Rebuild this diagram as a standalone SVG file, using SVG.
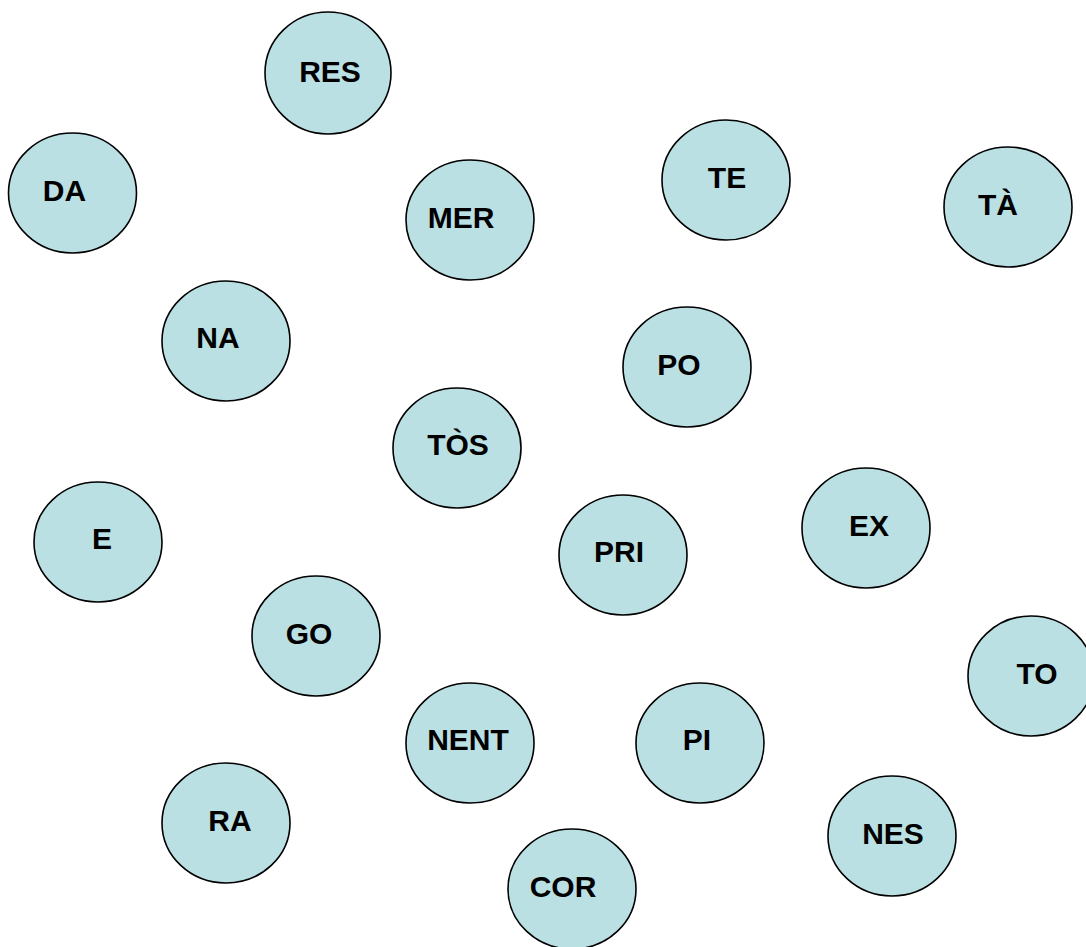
<svg xmlns="http://www.w3.org/2000/svg" width="1086" height="947" viewBox="0 0 1086 947">
<style>
.n ellipse{fill:#BBE0E3;stroke:#000;stroke-width:1.6}
.n text{font-family:"Liberation Sans",Arial,sans-serif;font-weight:bold;font-size:30px;text-anchor:middle;fill:#000}
</style>
<rect width="1086" height="947" fill="#fff"/>
<g id="connectors"></g>
<g id="n-res" class="n"><ellipse cx="328" cy="73" rx="63" ry="61"/><text x="330" y="82">RES</text></g>
<g id="n-da" class="n"><ellipse cx="72.5" cy="193" rx="64" ry="60"/><text x="64.5" y="201">DA</text></g>
<g id="n-mer" class="n"><ellipse cx="470" cy="220" rx="64" ry="60"/><text x="461" y="228">MER</text></g>
<g id="n-te" class="n"><ellipse cx="726" cy="180" rx="64" ry="60"/><text x="727" y="188">TE</text></g>
<g id="n-ta" class="n"><ellipse cx="1008" cy="207" rx="64" ry="60"/><text x="998" y="215">TÀ</text></g>
<g id="n-na" class="n"><ellipse cx="226" cy="341" rx="64" ry="60"/><text x="218" y="348">NA</text></g>
<g id="n-po" class="n"><ellipse cx="687" cy="367" rx="64" ry="60"/><text x="679" y="375">PO</text></g>
<g id="n-tos" class="n"><ellipse cx="457" cy="448" rx="64" ry="60"/><text x="458" y="455">TÒS</text></g>
<g id="n-e" class="n"><ellipse cx="98" cy="542" rx="64" ry="60"/><text x="102" y="549">E</text></g>
<g id="n-ex" class="n"><ellipse cx="866" cy="528" rx="64" ry="60"/><text x="869" y="536">EX</text></g>
<g id="n-pri" class="n"><ellipse cx="623" cy="555" rx="64" ry="60"/><text x="619" y="562">PRI</text></g>
<g id="n-go" class="n"><ellipse cx="316" cy="636" rx="64" ry="60"/><text x="309" y="644">GO</text></g>
<g id="n-to" class="n"><ellipse cx="1031" cy="676" rx="63" ry="60"/><text x="1037" y="684">TO</text></g>
<g id="n-nent" class="n"><ellipse cx="470" cy="743" rx="64" ry="60"/><text x="468" y="750">NENT</text></g>
<g id="n-pi" class="n"><ellipse cx="700" cy="743" rx="64" ry="60"/><text x="697" y="750">PI</text></g>
<g id="n-ra" class="n"><ellipse cx="226" cy="823" rx="64" ry="60"/><text x="230" y="831">RA</text></g>
<g id="n-nes" class="n"><ellipse cx="892" cy="836" rx="64" ry="60"/><text x="893" y="844">NES</text></g>
<g id="n-cor" class="n"><ellipse cx="572" cy="889" rx="64" ry="60"/><text x="563" y="897">COR</text></g>
</svg>
